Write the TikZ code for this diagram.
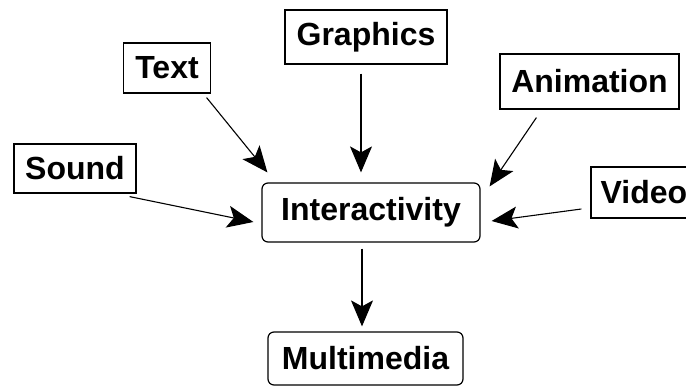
\documentclass[tikz,border=0pt]{standalone}
\usepackage{fontspec}
\setmainfont{Liberation Sans}
\usetikzlibrary{arrows.meta,calc}

\begin{document}
\begin{tikzpicture}[x=1pt, y=-1pt,
    box/.style={draw, line width=1.2pt, inner sep=0pt, font=\bfseries\fontsize{32}{38}\selectfont},
    hub/.style={box, rounded corners=6pt},
    feed/.style={-{Stealth[length=26pt, width=22pt, inset=6pt]}, line width=1.1pt}]
  \useasboundingbox (0,0) rectangle (686,386);
  % media sources
  \node[box, minimum width=162pt, minimum height=54pt] (gfx)  at (366,37)    {Graphics};
  \node[box, minimum width=87pt,  minimum height=50pt] (txt)  at (167,68)    {Text};
  \node[box, minimum width=179pt, minimum height=55pt] (anim) at (589.5,81.5) {Animation};
  \node[box, minimum width=122pt, minimum height=49pt] (snd)  at (75,168.5)  {Sound};
  \node[box, minimum width=106pt, minimum height=51pt] (vid)  at (644,192.5) {Video};
  % centre and result
  \node[hub, minimum width=218pt, minimum height=59pt] (inter) at (371,212.5) {Interactivity};
  \node[hub, minimum width=195pt, minimum height=53pt] (mm)    at (365.5,358.5) {Multimedia};

  \draw[feed] ($(gfx.south)+(-5,9)$) -- ($(inter.north)+(-10,-10)$);
  \draw[feed] ($(txt.south east)+(-4.5,4)$) -- ($(inter.north west)+(6,-10)$);
  \draw[feed] ($(anim.south west)+(37,8)$) -- ($(inter.north east)+(9,4)$);
  \draw[feed] ($(snd.south east)+(-7,3)$) -- ($(inter.west)+(-8,9.5)$);
  \draw[feed] ($(vid.west)+(-9,16.5)$) -- ($(inter.east)+(11,8.5)$);
  \draw[feed] ($(inter.south)+(-9,6)$) -- ($(mm.north)+(-3.5,-5)$);
\end{tikzpicture}
\end{document}
